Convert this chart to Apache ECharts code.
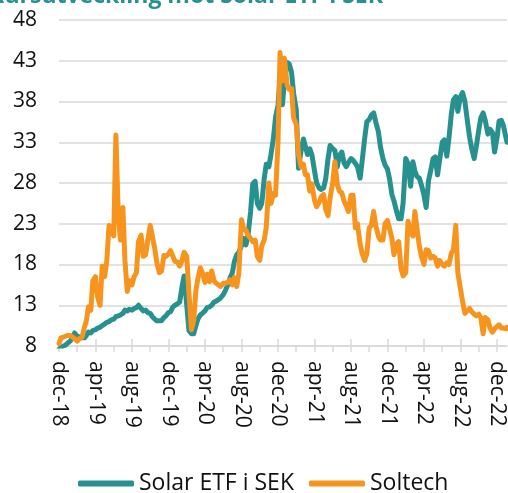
<!DOCTYPE html>
<html>
<head>
<meta charset="utf-8">
<script src="https://cdn.jsdelivr.net/npm/echarts@6/dist/echarts.min.js"></script>
<style>
html,body{margin:0;padding:0;background:#fff;}
#chart{width:508px;height:493px;}
</style>
</head>
<body>
<div id="chart"></div>
<script>
const titleText = 'Kursutveckling mot Solar ETF i SEK';
const seriesNames = ['Solar ETF i SEK', 'Soltech'];
const tickLabels = ['dec-18','apr-19','aug-19','dec-19','apr-20','aug-20','dec-20','apr-21','aug-21','dec-21','apr-22','aug-22','dec-22'];
const dates = [
'2018-12-01','2018-12-08','2018-12-16','2018-12-23',
'2019-01-01','2019-01-08','2019-01-16','2019-01-23',
'2019-02-01','2019-02-08','2019-02-16','2019-02-23',
'2019-03-01','2019-03-08','2019-03-16','2019-03-23',
'2019-04-01','2019-04-08','2019-04-16','2019-04-23',
'2019-05-01','2019-05-08','2019-05-16','2019-05-23',
'2019-06-01','2019-06-08','2019-06-16','2019-06-23',
'2019-07-01','2019-07-08','2019-07-16','2019-07-23',
'2019-08-01','2019-08-08','2019-08-16','2019-08-23',
'2019-09-01','2019-09-08','2019-09-16','2019-09-23',
'2019-10-01','2019-10-08','2019-10-16','2019-10-23',
'2019-11-01','2019-11-08','2019-11-16','2019-11-23',
'2019-12-01','2019-12-08','2019-12-16','2019-12-23',
'2020-01-01','2020-01-08','2020-01-16','2020-01-23',
'2020-02-01','2020-02-08','2020-02-16','2020-02-23',
'2020-03-01','2020-03-08','2020-03-16','2020-03-23',
'2020-04-01','2020-04-08','2020-04-16','2020-04-23',
'2020-05-01','2020-05-08','2020-05-16','2020-05-23',
'2020-06-01','2020-06-08','2020-06-16','2020-06-23',
'2020-07-01','2020-07-08','2020-07-16','2020-07-23',
'2020-08-01','2020-08-08','2020-08-16','2020-08-23',
'2020-09-01','2020-09-08','2020-09-16','2020-09-23',
'2020-10-01','2020-10-08','2020-10-16','2020-10-23',
'2020-11-01','2020-11-08','2020-11-16','2020-11-23',
'2020-12-01','2020-12-08','2020-12-16','2020-12-23',
'2021-01-01','2021-01-08','2021-01-16','2021-01-23',
'2021-02-01','2021-02-08','2021-02-16','2021-02-23',
'2021-03-01','2021-03-08','2021-03-16','2021-03-23',
'2021-04-01','2021-04-08','2021-04-16','2021-04-23',
'2021-05-01','2021-05-08','2021-05-16','2021-05-23',
'2021-06-01','2021-06-08','2021-06-16','2021-06-23',
'2021-07-01','2021-07-08','2021-07-16','2021-07-23',
'2021-08-01','2021-08-08','2021-08-16','2021-08-23',
'2021-09-01','2021-09-08','2021-09-16','2021-09-23',
'2021-10-01','2021-10-08','2021-10-16','2021-10-23',
'2021-11-01','2021-11-08','2021-11-16','2021-11-23',
'2021-12-01','2021-12-08','2021-12-16','2021-12-23',
'2022-01-01','2022-01-08','2022-01-16','2022-01-23',
'2022-02-01','2022-02-08','2022-02-16','2022-02-23',
'2022-03-01','2022-03-08','2022-03-16','2022-03-23',
'2022-04-01','2022-04-08','2022-04-16','2022-04-23',
'2022-05-01','2022-05-08','2022-05-16','2022-05-23',
'2022-06-01','2022-06-08','2022-06-16','2022-06-23',
'2022-07-01','2022-07-08','2022-07-16','2022-07-23',
'2022-08-01','2022-08-08','2022-08-16','2022-08-23',
'2022-09-01','2022-09-08','2022-09-16','2022-09-23',
'2022-10-01','2022-10-08','2022-10-16','2022-10-23',
'2022-11-01','2022-11-08','2022-11-16','2022-11-23',
'2022-12-01','2022-12-08','2022-12-16','2022-12-23',
'2023-01-01','2023-01-04'
];
const solarEtfSek = [
7.6,7.8,8.0,8.1,
8.4,8.6,9.0,9.6,
9.2,9.1,9.0,9.0,
9.3,9.7,9.6,9.9,
10.0,10.2,10.3,10.5,
10.7,10.9,11.0,11.2,
11.3,11.6,11.7,11.8,
12.0,12.4,12.3,12.5,
12.4,12.6,12.7,13.0,
12.6,12.3,12.4,12.1,
12.0,11.6,11.3,11.1,
11.1,11.1,11.5,11.7,
12.1,12.2,12.8,13.0,
13.2,13.4,15.3,16.6,
13.0,9.9,9.5,9.5,
10.5,11.3,11.8,12.0,
12.3,12.7,12.8,13.0,
13.4,13.5,13.7,13.9,
14.3,14.8,15.5,16.3,
17.0,18.4,19.2,19.5,
20.3,21.2,20.4,21.5,
24.5,27.9,28.2,25.5,
24.9,25.5,28.5,30.3,
30.0,31.5,33.5,36.1,
37.5,41.0,37.6,40.5,
42.8,42.6,41.6,39.0,
37.0,29.8,32.0,33.4,
33.5,31.5,32.2,31.5,
29.5,28.0,27.4,27.2,
27.4,28.5,31.0,32.6,
32.2,32.0,30.0,31.4,
31.8,30.5,30.0,30.5,
31.0,30.8,30.4,30.0,
28.6,30.8,33.5,35.5,
35.8,36.3,36.6,35.5,
34.3,32.4,31.0,30.2,
29.7,28.5,26.6,25.8,
24.5,23.6,23.6,25.5,
31.0,30.4,27.6,30.6,
29.5,28.8,28.6,27.8,
26.5,25.0,28.3,29.5,
31.0,31.2,29.0,30.8,
33.0,33.3,31.3,33.5,
36.5,38.2,38.6,36.8,
38.6,39.1,38.0,36.0,
33.6,32.2,31.0,32.5,
34.5,36.0,36.6,35.7,
34.0,34.6,34.2,31.8,
33.5,35.6,35.7,35.0,
33.5,33.0
];
const soltech = [
8.3,9.0,9.1,9.2,
9.3,9.3,9.1,8.9,
8.6,8.9,9.1,10.3,
11.1,12.8,12.4,16.0,
16.5,14.0,13.0,17.8,
16.5,18.3,22.8,22.4,
21.5,33.9,24.0,21.0,
25.0,18.5,14.7,16.0,
15.5,16.5,17.0,20.8,
21.6,19.0,19.2,21.0,
22.8,21.5,20.0,18.3,
17.0,17.2,19.1,19.0,
19.3,19.7,19.0,18.4,
18.3,17.8,18.5,19.5,
19.0,14.5,10.0,11.1,
14.8,16.3,17.6,17.0,
15.8,16.8,15.9,17.2,
16.0,15.7,15.5,15.3,
15.7,15.7,15.8,16.1,
15.5,16.4,15.3,17.0,
23.5,22.4,22.2,21.6,
21.2,20.8,21.0,19.0,
18.5,20.3,21.0,22.5,
28.0,25.5,26.7,26.5,
33.0,44.0,40.5,43.3,
40.0,39.5,39.6,36.0,
35.2,31.5,30.0,30.3,
29.0,29.0,27.0,27.9,
25.9,25.1,25.6,26.3,
26.6,24.8,24.0,26.2,
28.0,30.6,27.8,27.0,
26.8,25.8,25.2,24.5,
26.5,26.5,22.5,23.0,
20.5,19.3,18.5,19.3,
22.5,22.8,24.5,22.8,
21.5,21.0,21.0,23.0,
23.4,22.4,21.2,19.2,
20.5,20.8,17.5,16.6,
17.0,23.3,22.0,21.5,
24.5,22.5,20.3,19.0,
18.0,19.8,19.7,18.8,
19.0,18.8,17.8,18.5,
18.0,17.8,18.2,18.0,
19.4,19.8,22.8,17.0,
15.0,13.5,12.0,12.3,
12.6,12.2,11.9,11.7,
11.9,11.5,9.5,11.5,
11.2,10.2,9.7,10.1,
10.4,10.6,10.2,10.2,
10.1,10.3
];
const yMin = 8, yMax = 48, yStep = 5;

function monthOffset(s) {
  const p = s.split('-').map(Number);
  const dim = new Date(p[0], p[1], 0).getDate();
  return (p[0] - 2018) * 12 + (p[1] - 12) + (p[2] - 1) / dim;
}
const xs = dates.map(monthOffset);
const xMax = xs[xs.length - 1];
const labelVals = tickLabels.map((_, i) => i * 4);
const minorVals = [];
for (let i = 0; i <= 48; i += 2) minorVals.push(i);

const teal = '#27918f', orange = '#f7941e', gridCol = '#d9d9d9';
const font = "'Open Sans', 'Noto Sans', sans-serif";

const chart = echarts.init(document.getElementById('chart'), null, {renderer: 'canvas'});
chart.setOption({
  animation: false,
  backgroundColor: '#fff',
  graphic: [{
    type: 'text', x: 383, y: -4,
    style: {text: titleText, fill: teal, font: "bold 23px 'Open Sans', sans-serif", align: 'right', verticalAlign: 'middle'}
  }],
  grid: {left: 59, right: 1, top: 20, bottom: 147, containLabel: false},
  legend: {
    data: seriesNames, left: 78, top: 472, padding: 0, itemWidth: 56, itemHeight: 6, itemGap: 15,
    icon: 'roundRect',
    textStyle: {fontFamily: font, fontSize: 23, color: '#111'}
  },
  xAxis: [{
    type: 'value', min: 0, max: xMax, interval: 2,
    axisLine: {show: true, lineStyle: {color: gridCol, width: 1.5}},
    axisTick: {show: true, length: 6, lineStyle: {color: gridCol, width: 1.5}, customValues: minorVals},
    axisLabel: {
      show: true, rotate: -90, margin: 15, customValues: labelVals, padding: [7, 0, 0, 0],
      fontFamily: font, fontSize: 21, color: '#111',
      formatter: v => { const i = Math.round(v / 4); return (Math.abs(v - i * 4) < 1e-6 && tickLabels[i]) ? tickLabels[i] : ''; }
    },
    splitLine: {show: false}
  }, {
    type: 'value', min: 0, max: xMax, interval: 4, position: 'bottom',
    axisLine: {show: false},
    axisTick: {show: true, inside: true, length: 7, lineStyle: {color: gridCol, width: 1.5}, customValues: labelVals},
    axisLabel: {show: false},
    splitLine: {show: false}
  }],
  yAxis: {
    type: 'value', min: yMin, max: yMax, interval: yStep,
    axisLine: {show: false}, axisTick: {show: false},
    axisLabel: {margin: 22, fontFamily: font, fontSize: 21, color: '#111'},
    splitLine: {lineStyle: {color: gridCol, width: 1.5}}
  },
  series: [{
    name: seriesNames[0], type: 'line', showSymbol: false, symbol: 'none',
    data: xs.map((x, i) => [x, solarEtfSek[i]]),
    lineStyle: {color: teal, width: 5, cap: 'round', join: 'round'},
    itemStyle: {color: teal}
  }, {
    name: seriesNames[1], type: 'line', showSymbol: false, symbol: 'none',
    data: xs.map((x, i) => [x, soltech[i]]),
    lineStyle: {color: orange, width: 5, cap: 'round', join: 'round'},
    itemStyle: {color: orange}
  }]
});
</script>
</body>
</html>
